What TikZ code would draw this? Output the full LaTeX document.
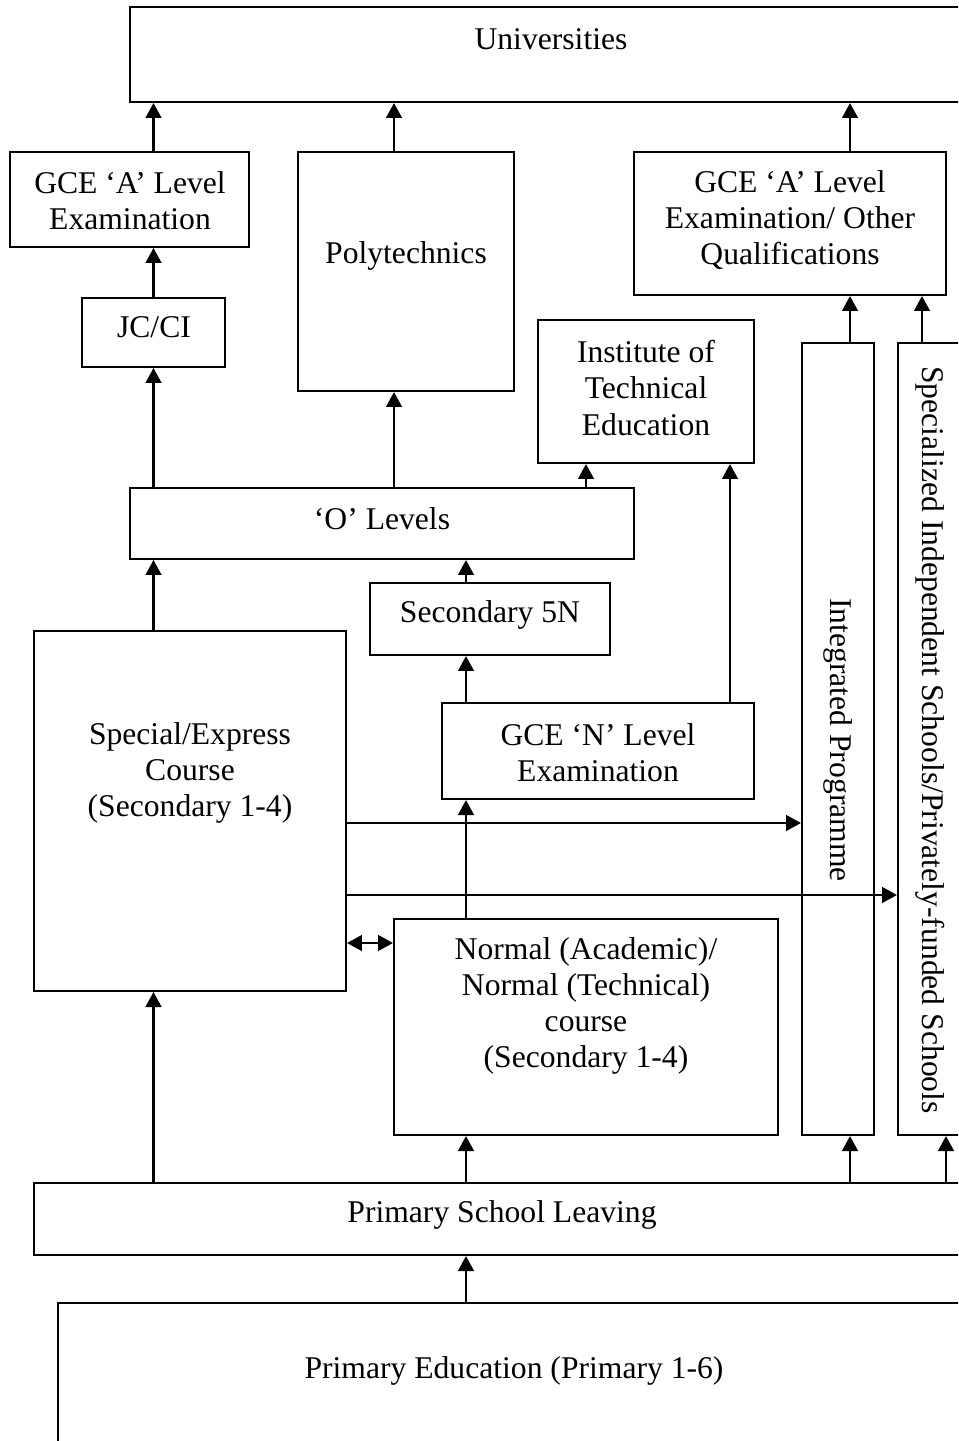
\documentclass[tikz,border=0pt]{standalone}
\usepackage{fontspec}
\setmainfont{Liberation Serif}
\usetikzlibrary{arrows.meta,fit}

\begin{document}
\begin{tikzpicture}[x=0.02cm, y=-0.02cm,
  box/.style={draw, line width=1.2pt, inner sep=0pt},
  lbl/.style={align=center, inner sep=0pt, font=\fontsize{18}{20.5}\selectfont},
  arr/.style={line width=1.2pt, -{Triangle[length=8.5pt, width=9pt]}},
  darr/.style={line width=1.2pt, {Triangle[length=8.5pt, width=9pt]}-{Triangle[length=8.5pt, width=9pt]}}]

\useasboundingbox (0,0) rectangle (958,1441);
\clip (0,0) rectangle (958,1441);

% columns and rows where the arrows run
\coordinate (c394) at (394,0);
\coordinate (c466) at (466,0);
\coordinate (c586) at (586,0);
\coordinate (c730) at (730,0);
\coordinate (c850) at (850,0);
\coordinate (c922) at (922,0);
\coordinate (c946) at (946,0);
\coordinate (r823) at (0,823);
\coordinate (r895) at (0,895);
\coordinate (r943) at (0,943);

% top level
\node[box, fit={(130,7) (975,102)}] (uni) {};
\node[lbl] (uni-t) at (551,39) {Universities};

\node[box, fit={(10,152) (249,247)}] (gcea) {};
\node[lbl] (gcea-t) at (130,201) {GCE ‘A’ Level\\Examination};
\node[box, fit={(298,152) (514,391)}] (poly) {};
\node[lbl] (poly-t) at (406,256) {Polytechnics};
\node[box, fit={(634,152) (946,295)}] (gceo) {};
\node[lbl] (gceo-t) at (790,220) {GCE ‘A’ Level\\Examination/ Other\\Qualifications};

\node[box, fit={(82,298) (225,367)}] (jc) {};
\node[lbl] (jc-t) at (154,327) {JC/CI};
\node[box, fit={(538,320) (754,463)}] (ite) {};
\node[lbl] (ite-t) at (646,388) {Institute of\\Technical\\Education};

% the two long ones on the right
\node[box, fit={(802,343) (874,1135)}] (ip) {};
\node[lbl, rotate=-90] (ip-t) at (838,740) {Integrated Programme};
\node[box, fit={(898,343) (985,1135)}] (sis) {};
\node[lbl, rotate=-90] (sis-t) at (930,740) {Specialized Independent Schools/Privately-funded Schools};

% secondary level
\node[box, fit={(130,488) (634,559)}] (olev) {};
\node[lbl] (olev-t) at (382,519) {‘O’ Levels};
\node[box, fit={(370,583) (610,655)}] (sec5) {};
\node[lbl] (sec5-t) at (490,615) {Secondary 5N};
\node[box, fit={(34,631) (346,991)}] (spex) {};
\node[lbl] (spex-t) at (190,773) {Special/Express\\Course\\(Secondary 1-4)};
\node[box, fit={(442,703) (754,799)}] (gcen) {};
\node[lbl] (gcen-t) at (598,753) {GCE ‘N’ Level\\Examination};
\node[box, fit={(394,919) (778,1135)}] (norm) {};
\node[lbl] (norm-t) at (586,1006) {Normal (Academic)/\\Normal (Technical)\\course\\(Secondary 1-4)};

% primary level
\node[box, fit={(34,1183) (985,1255)}] (psl) {};
\node[lbl] (psl-t) at (502,1215) {Primary School Leaving};
\node[box, fit={(58,1303) (985,1480)}] (pri) {};
\node[lbl] (pri-t) at (514,1371) {Primary Education (Primary 1-6)};

% up to universities
\draw[arr] (gcea.north -| jc) -- (uni.south -| jc);
\draw[arr] (poly.north -| c394) -- (uni.south -| c394);
\draw[arr] (gceo.north -| c850) -- (uni.south -| c850);
\draw[arr] (jc.north) -- (gcea.south -| jc);
\draw[arr] (ip.north -| c850) -- (gceo.south -| c850);
\draw[arr] (sis.north -| c922) -- (gceo.south -| c922);

% from O levels and N levels
\draw[arr] (olev.north -| jc) -- (jc.south);
\draw[arr] (olev.north -| c394) -- (poly.south -| c394);
\draw[arr] (olev.north -| c586) -- (ite.south -| c586);
\draw[arr] (gcen.north -| c730) -- (ite.south -| c730);
\draw[arr] (sec5.north -| c466) -- (olev.south -| c466);
\draw[arr] (gcen.north -| c466) -- (sec5.south -| c466);
\draw[arr] (spex.north -| jc) -- (olev.south -| jc);
\draw[arr] (norm.north -| c466) -- (gcen.south -| c466);

% across
\draw[arr] (spex.east |- r823) -- (ip.west |- r823);
\draw[arr] (spex.east |- r895) -- (sis.west |- r895);
\draw[darr] (spex.east |- r943) -- (norm.west |- r943);

% from primary
\draw[arr] (psl.north -| jc) -- (spex.south -| jc);
\draw[arr] (psl.north -| c466) -- (norm.south -| c466);
\draw[arr] (psl.north -| c850) -- (ip.south -| c850);
\draw[arr] (psl.north -| c946) -- (sis.south -| c946);
\draw[arr] (pri.north -| c466) -- (psl.south -| c466);

\end{tikzpicture}
\end{document}
